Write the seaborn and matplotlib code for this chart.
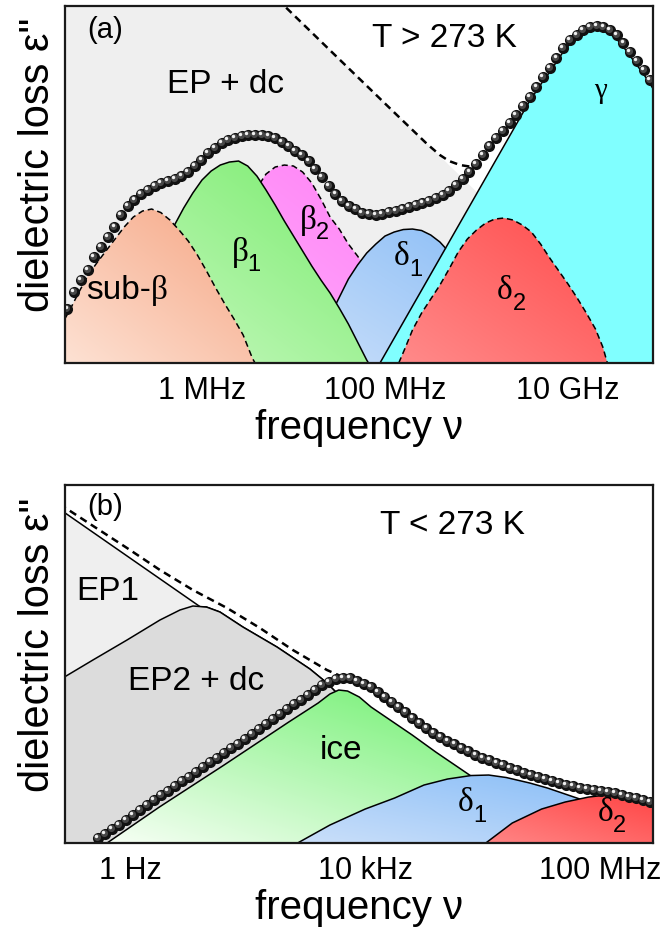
import numpy as np
import matplotlib
matplotlib.use("Agg")
import matplotlib.pyplot as plt
from matplotlib.colors import to_rgb
from matplotlib.transforms import ScaledTranslation
import seaborn as sns

# ---------------- panel (a): T > 273 K  (x = log10 frequency / Hz, y = arb. units)
a_ticks = [6, 8, 10]
a_ticklabels = ["1 MHz", "100 MHz", "10 GHz"]

ep_a_logf = [4.4, 10.95]
ep_a_y = [580, -2]

tot_a_logf = [6.80, 7.43, 8.13, 8.46, 8.6, 8.7, 8.82, 8.96]
tot_a_y = [366, 310, 248, 219, 208, 202, 198, 196]

subb_logf = [4.45, 4.55, 4.65, 4.75, 4.85, 4.95, 5.05, 5.15, 5.25, 5.35, 5.45, 5.55,
             5.65, 5.75, 5.85, 5.95, 6.05, 6.15, 6.25, 6.35, 6.45, 6.55, 6.58]
subb_y = [36, 52, 70, 87, 100, 112, 124, 136, 146, 152, 154, 150.5,
          143, 133, 122, 108, 92, 75, 59, 44, 28, 5, 0]

beta1_logf = [4.9, 5.1, 5.3, 5.5, 5.7, 5.8, 5.9, 6.0, 6.1, 6.2, 6.3, 6.4, 6.5, 6.6,
              6.7, 6.8, 6.9, 7.0, 7.1, 7.2, 7.3, 7.4, 7.5, 7.6, 7.7, 7.8, 7.82]
beta1_y = [0, 36, 70, 104, 138, 155, 170, 183, 192, 198, 201, 202, 197, 187,
           173, 158, 142, 127, 112, 97, 83, 70, 55, 39, 21, 3, 0]

beta2_logf = [5.7, 5.9, 6.1, 6.3, 6.5, 6.6, 6.7, 6.8, 6.9, 7.0, 7.1, 7.2, 7.3, 7.4,
              7.5, 7.6, 7.7, 7.8, 8.0, 8.2, 8.4, 8.47]
beta2_y = [0, 40, 80, 120, 158, 175, 189, 196, 198, 197, 191, 180, 164, 146,
           134, 119, 107, 94, 66, 38, 10, 0]

delta1_a_logf = [7.13, 7.3, 7.475, 7.6, 7.7, 7.8, 7.9, 8.0, 8.1, 8.2, 8.3, 8.4, 8.5,
                 8.6, 8.7, 8.8, 9.0, 9.2, 9.4, 9.47]
delta1_a_y = [0, 30, 61, 84, 98, 110, 119, 127, 131, 133.5, 134, 132.5, 128,
              121, 111, 98, 70, 40, 10, 0]

gamma_logf = [7.945, 9.58, 9.654, 9.727, 9.8, 9.873, 9.946, 10.02, 10.093, 10.166,
              10.24, 10.313, 10.386, 10.459, 10.532, 10.606, 10.679, 10.752,
              10.825, 10.898, 10.97]
gamma_y = [0, 262, 272, 282, 291, 301, 311, 319, 324, 329,
           332, 333, 332, 329, 324, 316, 307, 298, 289, 279, 268]

delta2_a_logf = [8.15, 8.22, 8.3, 8.4, 8.5, 8.6, 8.7, 8.8, 8.9, 9.0, 9.1, 9.2, 9.3,
                 9.4, 9.5, 9.6, 9.7, 9.8, 9.9, 10.0, 10.1, 10.2, 10.3, 10.38, 10.43]
delta2_a_y = [0, 15, 33, 50, 64, 78, 94, 111, 124, 133, 140, 144, 145,
              143, 138, 131, 119, 105, 92, 79, 65, 50, 34, 16, 0]

# measured spectrum, log-equidistant frequency grid
data_a_logf = np.linspace(4.53, 10.898, 88)
data_a_y = [54, 71, 83, 93, 106, 116, 126, 136, 148, 157,
            163, 169, 173, 177, 180, 182, 184, 187, 191, 197,
            203, 210, 215, 220, 223, 225, 227, 228, 228, 228,
            227, 225, 221, 217, 212, 208, 202, 194, 186, 177,
            169, 162, 157, 154, 150, 149, 148, 149, 151, 152,
            154, 156, 158, 160, 162, 165, 168, 172, 178, 184,
            191, 199, 208, 217, 225, 232, 240, 248, 257, 266,
            276, 286, 295, 305, 315, 323, 328, 333, 336, 337,
            336, 333, 328, 320, 311, 302, 293, 283]

# ---------------- panel (b): T < 273 K
b_ticks = [0, 4, 8]
b_ticklabels = ["1 Hz", "10 kHz", "100 MHz"]

ep1_logf = [-1.2, 1.2, 1.3, 1.53, 1.92, 2.5, 3.06, 3.35, 3.6, 4.2, 4.8, 5.1]
ep1_y = [334, 236, 236, 231, 216, 196, 174, 160, 145, 90, 30, 0]

ep2_logf = [-1.2, -0.63, -0.05, 0.51, 0.85, 1.07, 1.3, 1.53, 1.92, 2.5, 3.06, 3.35,
            3.6, 4.2, 4.8, 5.1]
ep2_y = [163, 183, 203, 223, 233, 237, 236, 231, 216, 196, 174, 160,
         145, 90, 30, 0]

tot_b_logf = [-1.2, -0.6, -0.05, 0.51, 1.07, 1.65, 2.21, 2.77, 3.35, 3.62]
tot_b_y = [339, 316, 295, 273, 253, 235, 215, 193, 173, 166]

ice_logf = [-0.39, 0.5, 1.6, 2.7, 3.2, 3.4, 3.55, 3.7, 3.9, 4.1, 4.4, 4.8, 5.2, 5.6,
            5.9, 6.3, 6.8, 7.3, 7.6]
ice_y = [0, 36, 78, 121, 140, 149, 153, 152, 146, 136, 124, 108, 91, 75,
         63, 48, 28, 10, 0]

delta1_b_logf = [2.85, 3.4, 4.0, 4.5, 5.0, 5.4, 5.8, 6.1, 6.4, 6.8, 7.1, 7.6, 8.0,
                 8.5, 9.0]
delta1_b_y = [0, 18, 34, 45, 58, 64, 67.5, 68, 65.5, 60, 55, 45, 37, 26, 16]

delta2_b_logf = [6.05, 6.5, 7.0, 7.4, 7.8, 8.1, 8.4, 8.7, 9.0]
delta2_b_y = [0, 20, 34, 41, 46, 48, 47, 43, 37]

data_b_logf = np.linspace(-0.544, 8.844, 80)
data_b_y = [5, 9, 14, 18, 23, 28, 33, 38, 43, 48,
            52, 57, 62, 66, 71, 76, 81, 85, 90, 95,
            99, 104, 109, 114, 119, 124, 129, 134, 139, 143,
            148, 153, 158, 161, 164, 165, 165, 162, 159, 156,
            151, 146, 141, 136, 131, 125, 120, 115, 110, 106,
            102, 99, 95, 92, 88, 85, 83, 80, 78, 75,
            73, 70, 68, 66, 64, 62, 60, 58, 57, 55,
            54, 53, 52, 51, 50, 48, 46, 45, 43, 41]

# ---------------- style
sns.set_theme(style="white")
plt.rcParams["font.family"] = ["Liberation Sans", "DejaVu Sans"]
plt.rcParams["text.color"] = "black"
plt.rcParams["axes.labelcolor"] = "black"
plt.rcParams["xtick.color"] = "black"
GREEK = ["Liberation Serif", "DejaVu Serif"]
DASH_THIN = (0, (4, 2.5))
DASH_TOTAL = (0, (3, 2))

fig = plt.figure(figsize=(6.63, 9.41), dpi=100)
ax_a = fig.add_axes([0.098, 0.6142, 0.887, 0.3794])
ax_b = fig.add_axes([0.098, 0.1041, 0.887, 0.3805])


def setup(ax, xlim, ylim, ticks, labels):
    ax.set_xlim(*xlim)
    ax.set_ylim(*ylim)
    ax.set_xticks(ticks)
    ax.set_xticklabels(labels)
    ax.set_yticks([])
    ax.tick_params(axis="x", length=0, pad=9, labelsize=22, labelcolor="black")
    ax.set_xlabel("frequency ν", fontsize=29, color="black")
    ax.set_ylabel('dielectric loss ε"', fontsize=30, color="black")
    ax.xaxis.set_label_coords(0.5, -0.128)
    ax.yaxis.set_label_coords(-0.012, 0.555)
    for sp in ax.spines.values():
        sp.set_color("#1a1a1a")
        sp.set_linewidth(1.6)
        sp.set_zorder(20)


def peak(ax, lf, y, c0, c1=None, ls="-", z=2, outline=True):
    lf = np.asarray(lf, float)
    y = np.asarray(y, float)
    coll = ax.fill_between(lf, y, 0, facecolor="none", linewidth=0, zorder=z)
    if c1 is None:
        coll.set_facecolor(c0)
    else:
        u = np.linspace(0, 1, 80)
        t = (u[None, :] + u[:, None]) / 2
        img = (1 - t)[..., None] * np.array(to_rgb(c0)) + t[..., None] * np.array(to_rgb(c1))
        im = ax.imshow(img, extent=(lf.min(), lf.max(), 0, y.max()), origin="lower",
                       aspect="auto", interpolation="bilinear", zorder=z)
        im.set_clip_path(coll.get_paths()[0], transform=ax.transData)
    if outline:
        ax.plot(lf, y, color="black", lw=1.1, ls=ls, zorder=z + 0.5)


def spheres(ax, lf, y):
    sns.scatterplot(x=lf, y=y, ax=ax, s=64, color="#111111", linewidth=0,
                    zorder=9, legend=False)
    for (dx, dy), s, c in [((-0.7, 0.7), 26, "#474747"), ((-1.3, 1.3), 6, "#f0f0f0")]:
        off = ax.transData + ScaledTranslation(dx / 72, dy / 72, fig.dpi_scale_trans)
        ax.scatter(lf, y, s=s, color=c, linewidth=0, zorder=9.2, transform=off)


def greek(ax, x, y, letter, sub=None, size=24):
    ax.text(x, y, letter, family=GREEK, fontsize=size, ha="center", va="center", zorder=12)
    if sub is not None:
        ax.annotate(sub, (x, y), xytext=(5.5, -9.5), textcoords="offset points",
                    fontsize=17, ha="left", va="center", zorder=12)


# ---------------- panel (a)
setup(ax_a, (4.503, 10.929), (0, 357), a_ticks, a_ticklabels)
peak(ax_a, ep_a_logf, ep_a_y, "#efefef", z=1, outline=False)
peak(ax_a, beta2_logf, beta2_y, "#ffb2ff", "#ff7ef4", ls=DASH_THIN, z=2)
peak(ax_a, delta1_a_logf, delta1_a_y, "#c8defa", "#88bcf6", z=3)
peak(ax_a, beta1_logf, beta1_y, "#cdf9c6", "#78ec6c", z=4)
peak(ax_a, subb_logf, subb_y, "#fde2d4", "#f6a583", ls=DASH_THIN, z=5)
peak(ax_a, gamma_logf, gamma_y, "#80ffff", z=6)
peak(ax_a, delta2_a_logf, delta2_a_y, "#ff8a8a", "#ff4c4c", ls=DASH_THIN, z=7)
ax_a.plot(tot_a_logf, tot_a_y, color="black", lw=1.8, ls=DASH_TOTAL, zorder=8)
spheres(ax_a, data_a_logf, data_a_y)

ax_a.text(0.068, 0.933, "(a)", transform=ax_a.transAxes, fontsize=21,
          ha="center", va="center", zorder=12)
ax_a.text(6.26, 279, "EP + dc", fontsize=24, ha="center", va="center", zorder=12)
ax_a.text(8.645, 325, "T > 273 K", fontsize=24, ha="center", va="center", zorder=12)
ax_a.text(5.44, 73, "sub-", fontsize=24, ha="right", va="center", zorder=12)
ax_a.text(5.44, 73, "β", family=GREEK, fontsize=24, ha="left", va="center", zorder=12)
greek(ax_a, 6.415, 111, "β", "1")
greek(ax_a, 7.16, 143, "β", "2")
greek(ax_a, 8.186, 106, "δ", "1")
greek(ax_a, 9.31, 72, "δ", "2")
greek(ax_a, 10.35, 272, "γ", size=21)

# ---------------- panel (b)
setup(ax_b, (-1.105, 8.895), (0, 358), b_ticks, b_ticklabels)
peak(ax_b, ep1_logf, ep1_y, "#efefef", z=1)
peak(ax_b, ep2_logf, ep2_y, "#dcdcdc", z=2)
peak(ax_b, ice_logf, ice_y, "#f6fff4", "#62ee62", z=3)
peak(ax_b, delta1_b_logf, delta1_b_y, "#cadffa", "#84bbf7", z=4)
peak(ax_b, delta2_b_logf, delta2_b_y, "#ff8585", "#ff4444", z=5)
ax_b.plot(tot_b_logf, tot_b_y, color="black", lw=1.8, ls=DASH_TOTAL, zorder=8)
spheres(ax_b, data_b_logf, data_b_y)

ax_b.text(0.068, 0.939, "(b)", transform=ax_b.transAxes, fontsize=21,
          ha="center", va="center", zorder=12)
ax_b.text(5.49, 317, "T < 273 K", fontsize=24, ha="center", va="center", zorder=12)
ax_b.text(-0.374, 252, "EP1", fontsize=24, ha="center", va="center", zorder=12)
ax_b.text(1.12, 162, "EP2 + dc", fontsize=24, ha="center", va="center", zorder=12)
ax_b.text(3.59, 93, "ice", fontsize=24, ha="center", va="center", zorder=12)
greek(ax_b, 5.70, 40, "δ", "1")
greek(ax_b, 8.08, 30, "δ", "2")

for ax, xl, yl in [(ax_a, (4.503, 10.929), (0, 357)), (ax_b, (-1.105, 8.895), (0, 358))]:
    ax.set_xlim(*xl)
    ax.set_ylim(*yl)

fig.savefig("out.png", dpi=100)
